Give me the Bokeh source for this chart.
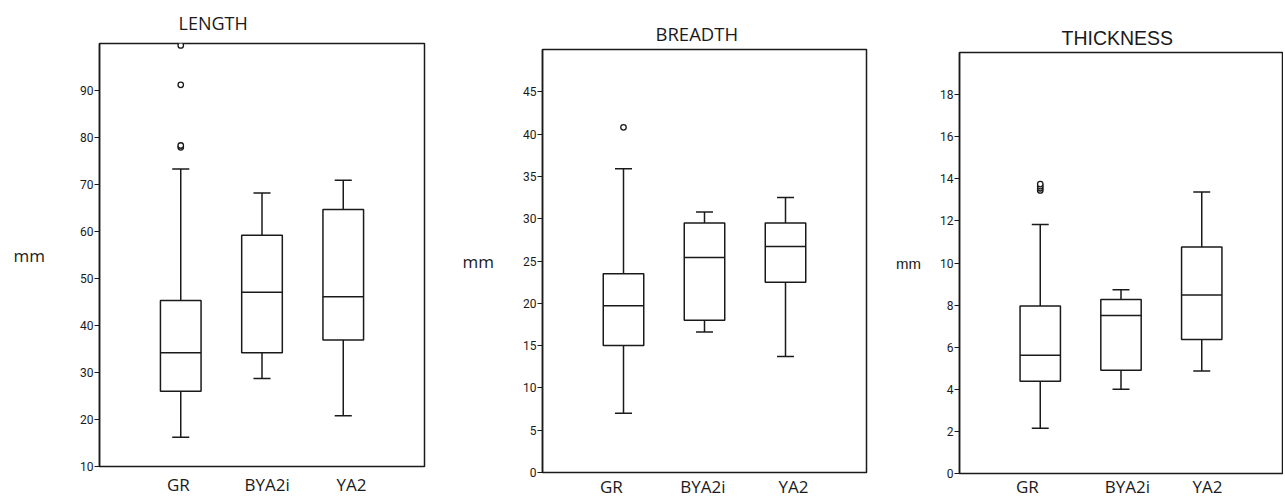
from bokeh.plotting import figure
from bokeh.layouts import row
from bokeh.models import Range1d, FixedTicker
from bokeh.embed import file_html
from bokeh.resources import INLINE

# ---------------- data ----------------
categories = ["GR", "BYA2i", "YA2"]
positions = [1, 2, 3]

length_lower = [16.2, 28.7, 20.8]
length_q1 = [26.0, 34.2, 36.9]
length_median = [34.2, 47.1, 46.1]
length_q3 = [45.3, 59.2, 64.7]
length_upper = [73.3, 68.2, 70.9]
length_outlier_groups = ["GR", "GR", "GR", "GR"]
length_outlier_values = [77.9, 78.3, 91.2, 99.6]
length_ticks = [10, 20, 30, 40, 50, 60, 70, 80, 90]

breadth_lower = [7.0, 16.6, 13.7]
breadth_q1 = [15.0, 18.0, 22.5]
breadth_median = [19.7, 25.4, 26.7]
breadth_q3 = [23.5, 29.5, 29.5]
breadth_upper = [35.9, 30.8, 32.5]
breadth_outlier_groups = ["GR"]
breadth_outlier_values = [40.8]
breadth_ticks = [0, 5, 10, 15, 20, 25, 30, 35, 40, 45]

thickness_lower = [2.15, 4.0, 4.87]
thickness_q1 = [4.38, 4.90, 6.36]
thickness_median = [5.62, 7.51, 8.48]
thickness_q3 = [7.96, 8.27, 10.76]
thickness_upper = [11.83, 8.73, 13.37]
thickness_outlier_groups = ["GR", "GR", "GR", "GR"]
thickness_outlier_values = [13.45, 13.55, 13.65, 13.75]
thickness_ticks = [0, 2, 4, 6, 8, 10, 12, 14, 16, 18]

BOX_W = 0.5
CAP_W = 0.21
INK = "#1a1a1a"


def make_panel(title, lower, q1, med, q3, upper, out_groups, out_vals,
               y_start, y_end, y_ticks, cfg):
    p = figure(frame_width=cfg["fw"], frame_height=cfg["fh"],
               min_border_left=cfg["bl"], min_border_right=cfg["br"],
               min_border_top=cfg["bt"], min_border_bottom=cfg["bb"],
               frame_align=False,
               x_range=Range1d(0, 4), y_range=Range1d(y_start, y_end),
               output_backend="svg", toolbar_location=None, title=title,
               background_fill_color="white", border_fill_color="white")
    p.title.align = "left"
    p.title.offset = cfg["t_off"]
    p.title.standoff = cfg["t_stand"]
    p.title.text_font = cfg["t_font"]
    p.title.text_font_size = cfg["t_size"]
    p.title.text_font_style = "normal"
    p.title.text_color = INK

    p.outline_line_color = INK
    p.outline_line_width = 1.5
    p.xgrid.visible = False
    p.ygrid.visible = False

    xs = positions
    left = [x - BOX_W / 2 for x in xs]
    right = [x + BOX_W / 2 for x in xs]
    cl = [x - CAP_W / 2 for x in xs]
    cr = [x + CAP_W / 2 for x in xs]

    # whiskers
    p.segment(x0=xs, y0=q3, x1=xs, y1=upper, line_color=INK, line_width=1.5)
    p.segment(x0=xs, y0=lower, x1=xs, y1=q1, line_color=INK, line_width=1.5)
    p.segment(x0=cl, y0=upper, x1=cr, y1=upper, line_color=INK, line_width=1.5)
    p.segment(x0=cl, y0=lower, x1=cr, y1=lower, line_color=INK, line_width=1.5)
    # boxes
    p.quad(left=left, right=right, bottom=q1, top=q3, fill_color="white",
           line_color=INK, line_width=1.5)
    p.segment(x0=left, y0=med, x1=right, y1=med, line_color=INK, line_width=1.5)
    # outliers
    ox = [positions[categories.index(g)] for g in out_groups]
    p.scatter(x=ox, y=out_vals, marker="circle", size=5.5, fill_color="white",
              line_color=INK, line_width=1.3)

    # y axis
    ya = p.yaxis[0]
    ya.ticker = FixedTicker(ticks=y_ticks)
    ya.minor_tick_line_color = None
    ya.major_tick_out = 5
    ya.major_tick_in = 0
    ya.major_tick_line_color = INK
    ya.axis_line_color = INK
    ya.axis_line_width = 1.5
    ya.major_label_text_font = "Roboto"
    ya.major_label_text_font_size = "12px"
    ya.major_label_text_color = INK
    ya.major_label_standoff = 1
    ya.axis_label = "mm"
    ya.axis_label_orientation = "horizontal"
    ya.axis_label_text_font = cfg["mm_font"]
    ya.axis_label_text_font_size = cfg["mm_size"]
    ya.axis_label_text_font_style = "normal"
    ya.axis_label_text_color = INK
    ya.axis_label_standoff = cfg["mm_stand"]

    # x axis (category labels)
    xa = p.xaxis[0]
    xa.ticker = FixedTicker(ticks=cfg["lab_x"])
    xa.major_label_overrides = {float(t): c for t, c in zip(cfg["lab_x"], categories)}
    xa.axis_line_color = None
    xa.major_tick_line_color = None
    xa.minor_tick_line_color = None
    xa.major_tick_out = 0
    xa.major_tick_in = 0
    xa.axis_label_standoff = 0
    xa.major_label_text_font = "Open Sans"
    xa.major_label_text_font_size = "17px"
    xa.major_label_text_color = INK
    xa.major_label_standoff = cfg["lab_stand"]
    return p


cfg1 = dict(fw=325, fh=423, bl=99, br=35, bt=43, bb=32, t_off=79, t_stand=17,
            t_font="Open Sans", t_size="18px", mm_font="Open Sans", mm_size="17px",
            mm_stand=32, lab_x=[0.97, 2.064, 3.1], lab_stand=6)
cfg2 = dict(fw=324, fh=423, bl=83, br=27, bt=49, bb=28, t_off=113, t_stand=7,
            t_font="Open Sans", t_size="18.5px", mm_font="Open Sans", mm_size="17px",
            mm_stand=26, lab_x=[0.85, 1.98, 3.1], lab_stand=2)
cfg3 = dict(fw=323, fh=421, bl=66, br=1, bt=52, bb=27, t_off=102, t_stand=8,
            t_font="Liberation Sans", t_size="19.5px", mm_font="Liberation Sans",
            mm_size="15px", mm_stand=16, lab_x=[0.84, 2.08, 3.07], lab_stand=1)

p1 = make_panel("LENGTH", length_lower, length_q1, length_median, length_q3,
                length_upper, length_outlier_groups, length_outlier_values,
                10, 100, length_ticks, cfg1)
p2 = make_panel("BREADTH", breadth_lower, breadth_q1, breadth_median, breadth_q3,
                breadth_upper, breadth_outlier_groups, breadth_outlier_values,
                0, 50, breadth_ticks, cfg2)
p3 = make_panel("THICKNESS", thickness_lower, thickness_q1, thickness_median,
                thickness_q3, thickness_upper, thickness_outlier_groups,
                thickness_outlier_values, 0, 20, thickness_ticks, cfg3)

layout = row(p1, p2, p3, spacing=0)
open("out.html", "w").write(file_html(layout, INLINE))
